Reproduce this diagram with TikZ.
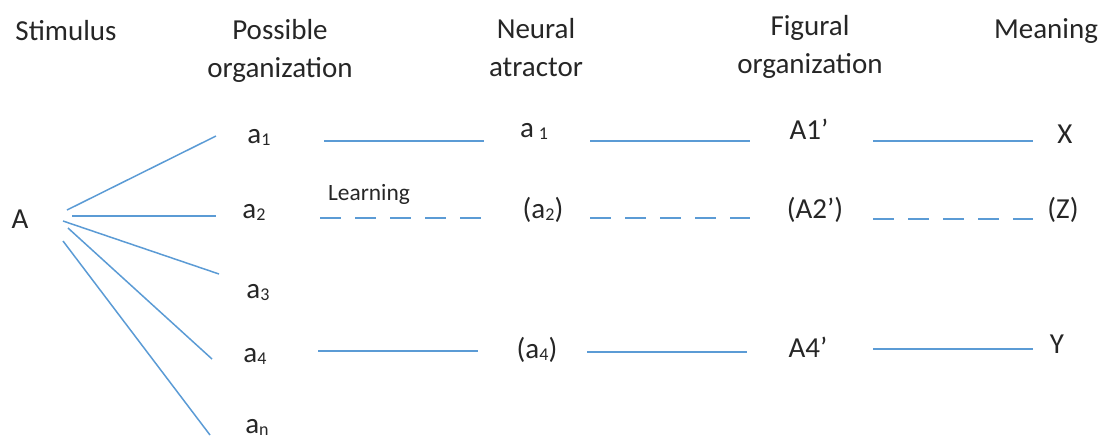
\documentclass[tikz,border=0pt]{standalone}
\usepackage{fontspec}
\setmainfont{Carlito}

\definecolor{linkblue}{RGB}{91,155,213}
\tikzstyle{link}=[draw=linkblue,line width=0.75pt]
\tikzstyle{guess}=[link,dash pattern=on 10.5pt off 7pt]
\tikzstyle{head}=[align=center,anchor=base,inner sep=0pt,text=black!85,font=\fontsize{14.5}{19}\selectfont]
\tikzstyle{term}=[anchor=base,inner sep=0pt,text=black!85,font=\fontsize{14.5}{17}\selectfont]
\newcommand{\idx}[1]{\raisebox{-1.2pt}{\fontsize{9}{9}\selectfont #1}}

\begin{document}
\begin{tikzpicture}[x=0.5pt,y=-0.5pt]
\useasboundingbox (0,0) rectangle (1104,441);
% Column heads

   \node[head] (hstim) at (66,40) {Stimulus};
   \node[head] (hposs) at (280,77) {Possible\\organization};
   \node[head] (hneur) at (536,76) {Neural\\atractor};
   \node[head] (hfig) at (810,73) {Figural\\organization};
   \node[head] (hmean) at (1046,38) {Meaning};

% Stimulus and possible organizations

   \node[term] (A) at (20,228) {A};
   \node[term] (pa1) at (259,143) {a\idx{1}};
   \node[term] (pa2) at (254,218) {a\idx{2}};
   \node[term] (pa3) at (258,298) {a\idx{3}};
   \node[term] (pa4) at (255,362) {a\idx{4}};
   \node[term] (pan) at (257,433) {a\idx{n}};

   \coordinate (f1s) at (67,210);  \coordinate (f1e) at (216,136);
   \coordinate (f2s) at (72,216);  \coordinate (f2e) at (216,216);
   \coordinate (f3s) at (63,221);  \coordinate (f3e) at (219,274);
   \coordinate (f4s) at (68,228);  \coordinate (f4e) at (212,359);
   \coordinate (f5s) at (63,241);  \coordinate (f5e) at (210,435);
\draw[link] (f1s) -- (f1e);
   \draw[link] (f2s) -- (f2e);
   \draw[link] (f3s) -- (f3e);
   \draw[link] (f4s) -- (f4e);
   \draw[link] (f5s) -- (f5e);

% Neural atractors, figural organizations, meanings

   \node[term] (na1) at (534,137) {a\,\idx{1}};
   \node[term] (na2) at (543,218) {(a\idx{2})};
   \node[term] (na4) at (537,358) {(a\idx{4})};
   \node[term] (fa1) at (809,139) {A1’};
   \node[term] (fa2) at (815,218) {(A2’)};
   \node[term] (fa4) at (808,357) {A4’};
   \node[term] (mx) at (1065,143) {X};
   \node[term] (mz) at (1063,218) {(Z)};
   \node[term] (my) at (1057,353) {Y};
   \node[term,font=\fontsize{11.7}{14}\selectfont] (learn) at (369,200) {Learning};

% Row links

   \coordinate (r1a) at (324,141); \coordinate (r1b) at (484,141);
   \coordinate (r1c) at (590,141); \coordinate (r1d) at (750,141);
   \coordinate (r1e) at (873,141); \coordinate (r1f) at (1033,141);
\draw[link] (r1a) -- (r1b);
   \draw[link] (r1c) -- (r1d);
   \draw[link] (r1e) -- (r1f);

   \coordinate (r2a) at (320,218); \coordinate (r2b) at (482,218);
   \coordinate (r2c) at (590,218); \coordinate (r2d) at (750,218);
   \coordinate (r2e) at (873,219); \coordinate (r2f) at (1033,219);
\draw[guess] (r2a) -- (r2b);
   \draw[guess] (r2c) -- (r2d);
   \draw[guess] (r2e) -- (r2f);

   \coordinate (r4a) at (318,351); \coordinate (r4b) at (478,351);
   \coordinate (r4c) at (587,352); \coordinate (r4d) at (747,352);
   \coordinate (r4e) at (873,349); \coordinate (r4f) at (1033,349);
\draw[link] (r4a) -- (r4b);
   \draw[link] (r4c) -- (r4d);
   \draw[link] (r4e) -- (r4f);

\end{tikzpicture}
\end{document}
